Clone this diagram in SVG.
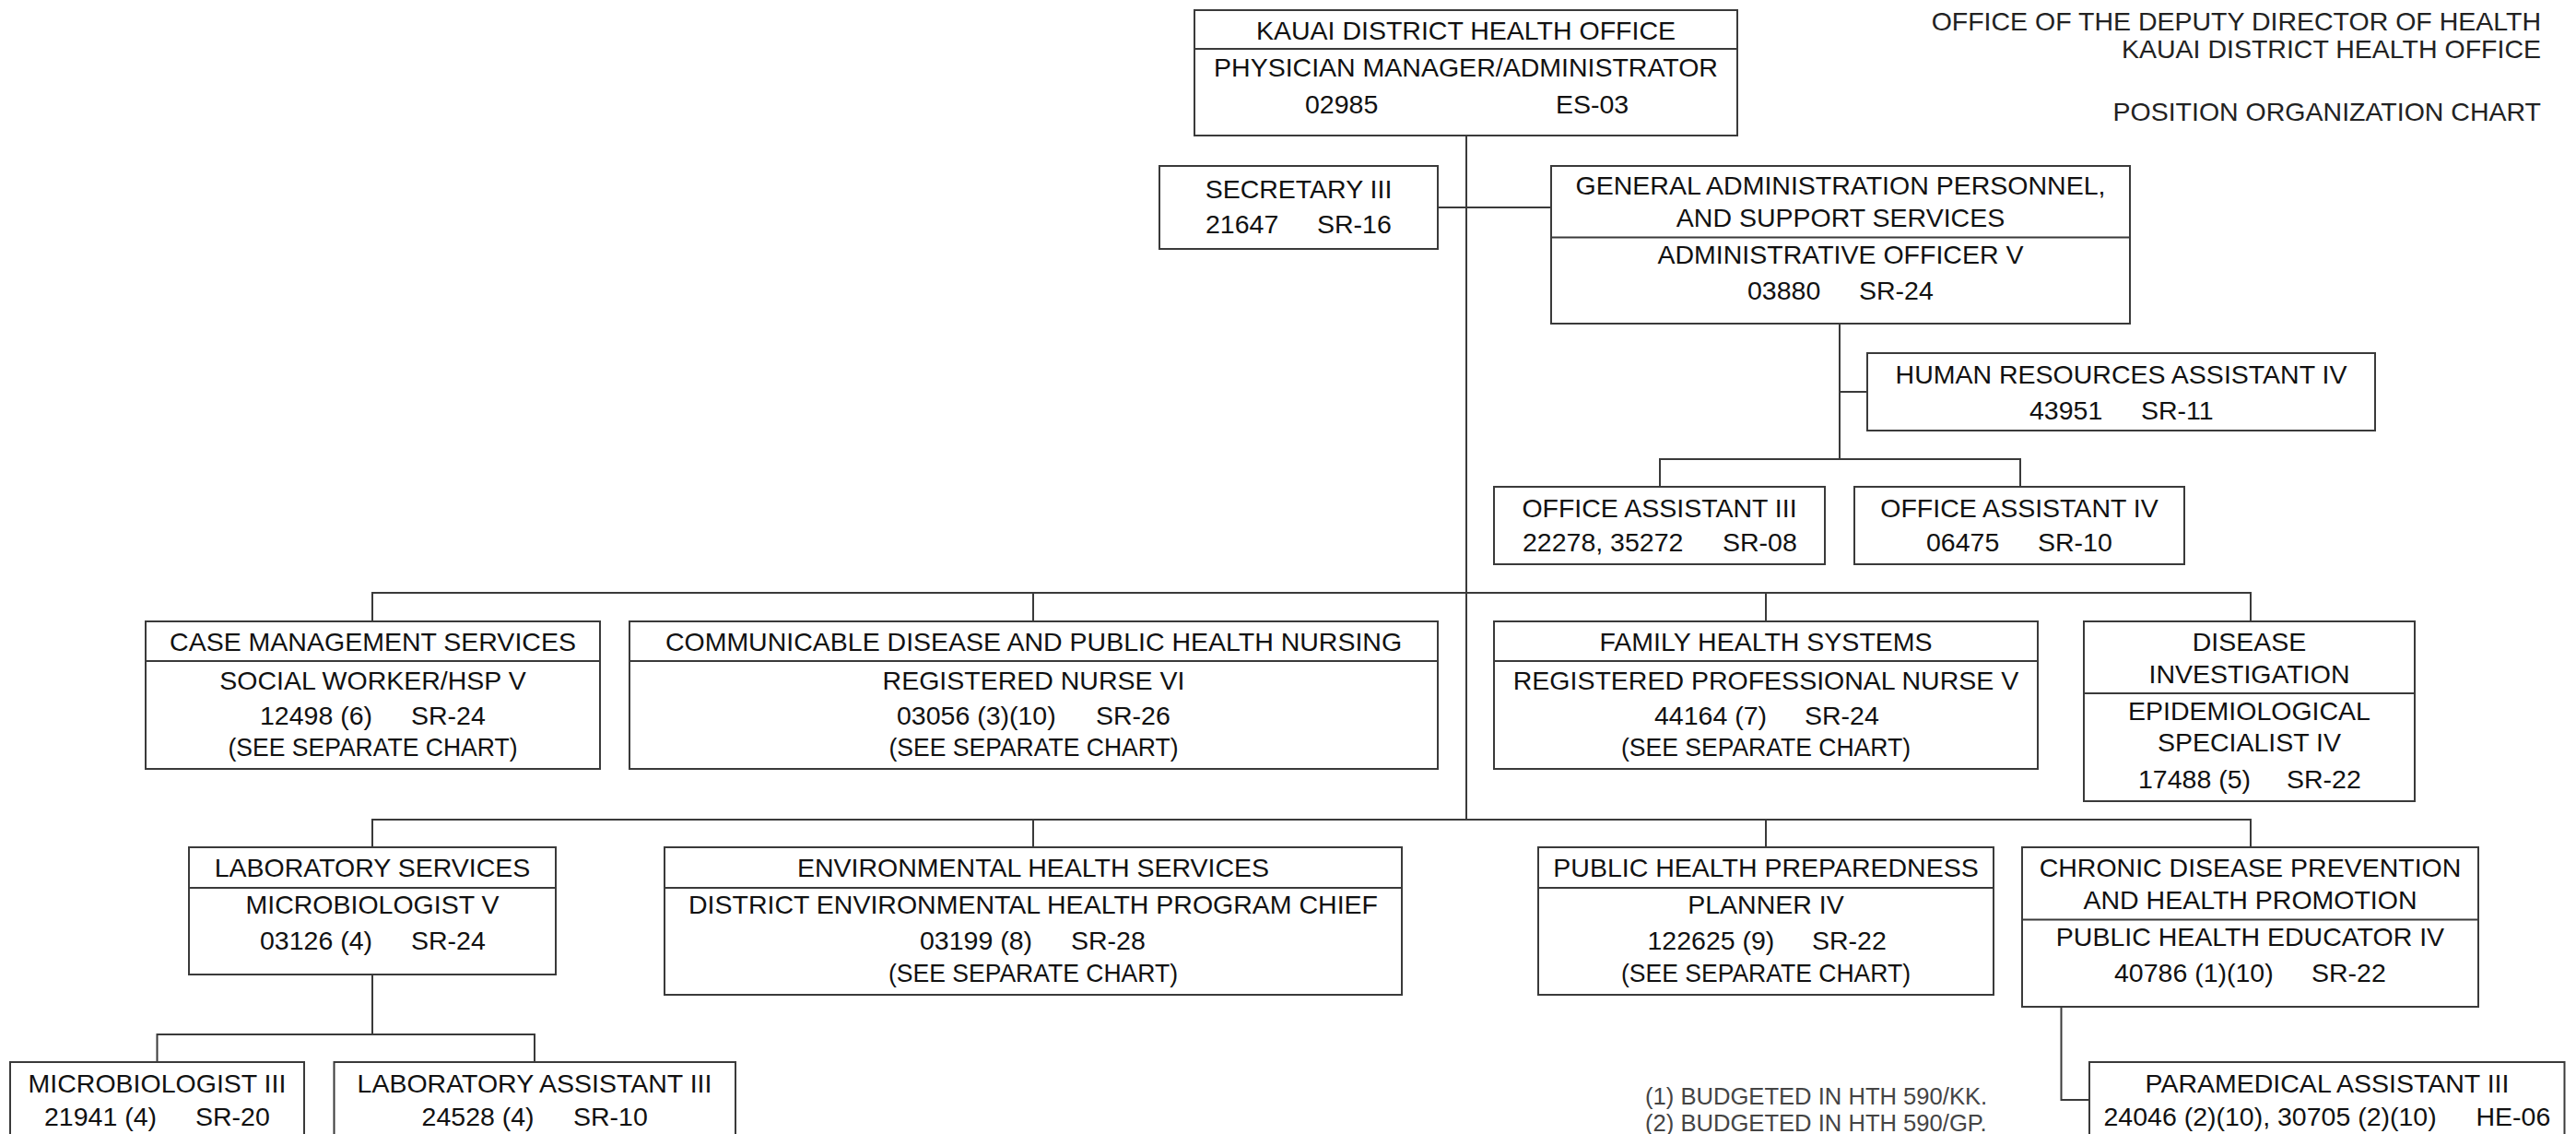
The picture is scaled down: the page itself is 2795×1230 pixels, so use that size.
<svg xmlns="http://www.w3.org/2000/svg" width="2795" height="1230" viewBox="0 0 2795 1230">
<style>
  .bx { fill: #fff; stroke: #3a3a3a; stroke-width: 2; }
  .dv { stroke: #3a3a3a; stroke-width: 2; }
  .cn { fill: none; stroke: #3a3a3a; stroke-width: 2; }
  text { font-family: "Liberation Sans", Arial, sans-serif; font-size: 28.5px; fill: #111; }
  .c { text-anchor: middle; }
  .hd { text-anchor: end; fill: #222; }
  .fn { font-size: 25.6px; fill: #444; }
</style>
<rect width="2795" height="1230" fill="#fff"/>

<g id="connectors">
  <path class="cn" d="M1591 147 V889"/>
  <path class="cn" d="M1560 225 H1683"/>
  <path class="cn" d="M1996 351 V498"/>
  <path class="cn" d="M1996 425 H2026"/>
  <path class="cn" d="M1801 528 V498 H2192 V528"/>
  <path class="cn" d="M404 674 V643 H2442 V674"/>
  <path class="cn" d="M1121 643 V674 M1916 643 V674"/>
  <path class="cn" d="M404 919 V889 H2442 V919"/>
  <path class="cn" d="M1121 889 V919 M1916 889 V919"/>
  <path class="cn" d="M404 1057 V1122"/>
  <path class="cn" d="M170.5 1152 V1122 H580 V1152"/>
  <path class="cn" d="M2236.5 1092 V1193 H2267"/>
</g>

<g id="header">
  <text class="hd" x="2757" y="33">OFFICE OF THE DEPUTY DIRECTOR OF HEALTH</text>
  <text class="hd" x="2757" y="63">KAUAI DISTRICT HEALTH OFFICE</text>
  <text class="hd" x="2757" y="131">POSITION ORGANIZATION CHART</text>
</g>

<g id="node-kauai">
  <rect class="bx" x="1296" y="11" width="589" height="136"/>
  <line class="dv" x1="1296" y1="53" x2="1885" y2="53"/>
  <text class="c" x="1590.5" y="43">KAUAI DISTRICT HEALTH OFFICE</text>
  <text class="c" x="1590.5" y="83">PHYSICIAN MANAGER/ADMINISTRATOR</text>
  <text x="1416" y="123">02985</text>
  <text x="1688" y="123">ES-03</text>
</g>

<g id="node-secretary">
  <rect class="bx" x="1258" y="180" width="302" height="90"/>
  <text class="c" x="1409" y="215">SECRETARY III</text>
  <text x="1308" y="253">21647</text>
  <text x="1429" y="253">SR-16</text>
</g>

<g id="node-genadmin">
  <rect class="bx" x="1683" y="180" width="628" height="171"/>
  <line class="dv" x1="1683" y1="257.5" x2="2311" y2="257.5"/>
  <text class="c" x="1997" y="211">GENERAL ADMINISTRATION PERSONNEL,</text>
  <text class="c" x="1997" y="246">AND SUPPORT SERVICES</text>
  <text class="c" x="1997" y="286">ADMINISTRATIVE OFFICER V</text>
  <text x="1896" y="325">03880</text>
  <text x="2017" y="325">SR-24</text>
</g>

<g id="node-hr">
  <rect class="bx" x="2026" y="383" width="551" height="84"/>
  <text class="c" x="2301.5" y="416">HUMAN RESOURCES ASSISTANT IV</text>
  <text x="2202" y="455">43951</text>
  <text x="2323" y="455">SR-11</text>
</g>

<g id="node-oa3">
  <rect class="bx" x="1621" y="528" width="359" height="84"/>
  <text class="c" x="1800.5" y="561">OFFICE ASSISTANT III</text>
  <text x="1652" y="598">22278, 35272</text>
  <text x="1869" y="598">SR-08</text>
</g>

<g id="node-oa4">
  <rect class="bx" x="2012" y="528" width="358" height="84"/>
  <text class="c" x="2191" y="561">OFFICE ASSISTANT IV</text>
  <text x="2090" y="598">06475</text>
  <text x="2211" y="598">SR-10</text>
</g>

<g id="node-casemgmt">
  <rect class="bx" x="158" y="674" width="493" height="160"/>
  <line class="dv" x1="158" y1="717" x2="651" y2="717"/>
  <text class="c" x="404.5" y="706">CASE MANAGEMENT SERVICES</text>
  <text class="c" x="404.5" y="748">SOCIAL WORKER/HSP V</text>
  <text x="282" y="786">12498 (6)</text>
  <text x="446" y="786">SR-24</text>
  <text class="c" x="404.5" y="820" textLength="314" lengthAdjust="spacingAndGlyphs">(SEE SEPARATE CHART)</text>
</g>

<g id="node-communicable">
  <rect class="bx" x="683" y="674" width="877" height="160"/>
  <line class="dv" x1="683" y1="717" x2="1560" y2="717"/>
  <text class="c" x="1121.5" y="706">COMMUNICABLE DISEASE AND PUBLIC HEALTH NURSING</text>
  <text class="c" x="1121.5" y="748">REGISTERED NURSE VI</text>
  <text x="973" y="786">03056 (3)(10)</text>
  <text x="1189" y="786">SR-26</text>
  <text class="c" x="1121.5" y="820" textLength="314" lengthAdjust="spacingAndGlyphs">(SEE SEPARATE CHART)</text>
</g>

<g id="node-familyhealth">
  <rect class="bx" x="1621" y="674" width="590" height="160"/>
  <line class="dv" x1="1621" y1="717" x2="2211" y2="717"/>
  <text class="c" x="1916" y="706">FAMILY HEALTH SYSTEMS</text>
  <text class="c" x="1916" y="748">REGISTERED PROFESSIONAL NURSE V</text>
  <text x="1795" y="786">44164 (7)</text>
  <text x="1958" y="786">SR-24</text>
  <text class="c" x="1916" y="820" textLength="314" lengthAdjust="spacingAndGlyphs">(SEE SEPARATE CHART)</text>
</g>

<g id="node-disease">
  <rect class="bx" x="2261" y="674" width="359" height="195"/>
  <line class="dv" x1="2261" y1="752" x2="2620" y2="752"/>
  <text class="c" x="2440.5" y="706">DISEASE</text>
  <text class="c" x="2440.5" y="741">INVESTIGATION</text>
  <text class="c" x="2440.5" y="781">EPIDEMIOLOGICAL</text>
  <text class="c" x="2440.5" y="815">SPECIALIST IV</text>
  <text x="2320" y="855">17488 (5)</text>
  <text x="2481" y="855">SR-22</text>
</g>

<g id="node-lab">
  <rect class="bx" x="205" y="919" width="398" height="138"/>
  <line class="dv" x1="205" y1="963" x2="603" y2="963"/>
  <text class="c" x="404" y="951">LABORATORY SERVICES</text>
  <text class="c" x="404" y="991">MICROBIOLOGIST V</text>
  <text x="282" y="1030">03126 (4)</text>
  <text x="446" y="1030">SR-24</text>
</g>

<g id="node-envhealth">
  <rect class="bx" x="721" y="919" width="800" height="160"/>
  <line class="dv" x1="721" y1="963" x2="1521" y2="963"/>
  <text class="c" x="1121" y="951">ENVIRONMENTAL HEALTH SERVICES</text>
  <text class="c" x="1121" y="991">DISTRICT ENVIRONMENTAL HEALTH PROGRAM CHIEF</text>
  <text x="998" y="1030">03199 (8)</text>
  <text x="1162" y="1030">SR-28</text>
  <text class="c" x="1121" y="1065" textLength="314" lengthAdjust="spacingAndGlyphs">(SEE SEPARATE CHART)</text>
</g>

<g id="node-php">
  <rect class="bx" x="1669" y="919" width="494" height="160"/>
  <line class="dv" x1="1669" y1="963" x2="2163" y2="963"/>
  <text class="c" x="1916" y="951">PUBLIC HEALTH PREPAREDNESS</text>
  <text class="c" x="1916" y="991">PLANNER IV</text>
  <text x="1787.5" y="1030">122625 (9)</text>
  <text x="1966" y="1030">SR-22</text>
  <text class="c" x="1916" y="1065" textLength="314" lengthAdjust="spacingAndGlyphs">(SEE SEPARATE CHART)</text>
</g>

<g id="node-chronic">
  <rect class="bx" x="2194" y="919" width="495" height="173"/>
  <line class="dv" x1="2194" y1="997.5" x2="2689" y2="997.5"/>
  <text class="c" x="2441.5" y="951">CHRONIC DISEASE PREVENTION</text>
  <text class="c" x="2441.5" y="986">AND HEALTH PROMOTION</text>
  <text class="c" x="2441.5" y="1026">PUBLIC HEALTH EDUCATOR IV</text>
  <text x="2294" y="1065">40786 (1)(10)</text>
  <text x="2508" y="1065">SR-22</text>
</g>

<g id="node-micro3">
  <rect class="bx" x="11" y="1152" width="319" height="100"/>
  <text class="c" x="170.5" y="1185">MICROBIOLOGIST III</text>
  <text x="48" y="1221">21941 (4)</text>
  <text x="212" y="1221">SR-20</text>
</g>

<g id="node-labassist">
  <rect class="bx" x="362.5" y="1152" width="435.5" height="100"/>
  <text class="c" x="580" y="1185">LABORATORY ASSISTANT III</text>
  <text x="457.6" y="1221">24528 (4)</text>
  <text x="622" y="1221">SR-10</text>
</g>

<g id="node-paramedical">
  <rect class="bx" x="2267" y="1152" width="515.5" height="100"/>
  <text class="c" x="2525" y="1185">PARAMEDICAL ASSISTANT III</text>
  <text x="2282.5" y="1221">24046 (2)(10), 30705 (2)(10)</text>
  <text x="2686.5" y="1221">HE-06</text>
</g>

<g id="footnotes">
  <text class="fn" x="1785" y="1198">(1) BUDGETED IN HTH 590/KK.</text>
  <text class="fn" x="1785" y="1226.5">(2) BUDGETED IN HTH 590/GP.</text>
</g>
</svg>
